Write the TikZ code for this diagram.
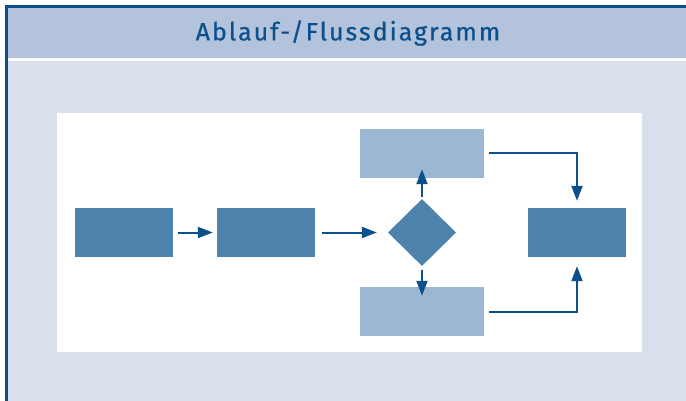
\documentclass[tikz,border=0pt]{standalone}
\usepackage{fontspec}
\setsansfont{Fira Sans}
\newfontfamily\policetitre[LetterSpace=8,FakeBold=0.6]{Fira Sans}
\usetikzlibrary{shapes.geometric,arrows.meta}
\definecolor{bleufonce}{HTML}{0B4F8B}
\definecolor{bleumoyen}{HTML}{4D82AD}
\definecolor{bleuclair}{HTML}{9BB7D3}
\definecolor{bandeau}{HTML}{B3C3DC}
\definecolor{fond}{HTML}{D9E0EC}
\tikzset{
  boite/.style={fill=bleumoyen, minimum width=98pt, minimum height=49pt, inner sep=0pt},
  boiteclaire/.style={fill=bleuclair, minimum width=124pt, minimum height=49pt, inner sep=0pt},
  fleche/.style={draw=bleufonce, line width=2pt, -{Triangle[length=15pt,width=11pt]}},
}
\begin{document}
\begin{tikzpicture}[x=1pt,y=-1pt]
  \useasboundingbox (0,0) rectangle (686,401);
  \fill[fond] (8,61) rectangle (686,401);
  \fill[white] (8,58) rectangle (686,61);
  \fill[bandeau] (8,8) rectangle (686,58);
  \fill[bleufonce] (5,5) rectangle (686,8);
  \fill[bleufonce] (5,5) rectangle (8,401);
  \node[text=bleufonce, font=\policetitre\fontsize{25}{29}\selectfont] (titre) at (348,33) {Ablauf-/Flussdiagramm};
  \fill[white] (57,113) rectangle (642,352);%zone du schema
  \node[boite] (b1) at (124,232.5) {};
  \node[boite] (b2) at (266,232.5) {};
  \node[diamond, fill=bleumoyen, minimum width=68pt, minimum height=67pt, inner sep=0pt] (test) at (422,232.5) {};
  \node[boiteclaire] (haut) at (422,153.5) {};
  \node[boiteclaire] (bas) at (422,311.5) {};
  \node[boite] (fin) at (577,232.5) {};
  \draw[fleche] ([xshift=5pt]b1.east) -- ([xshift=-4pt]b2.west);
  \draw[fleche] ([xshift=7pt]b2.east) -- ([xshift=-11pt]test.west);
  \draw[fleche] ([yshift=2pt]test.north) -- ([yshift=9pt]haut.south);
  \draw[fleche] ([yshift=-4pt]test.south) -- ([yshift=-9pt]bas.north);
  \draw[fleche] ([xshift=5pt]haut.east) -| ([yshift=7pt]fin.north);
  \draw[fleche] ([xshift=5pt]bas.east) -| ([yshift=-9pt]fin.south);
\end{tikzpicture}
\end{document}
